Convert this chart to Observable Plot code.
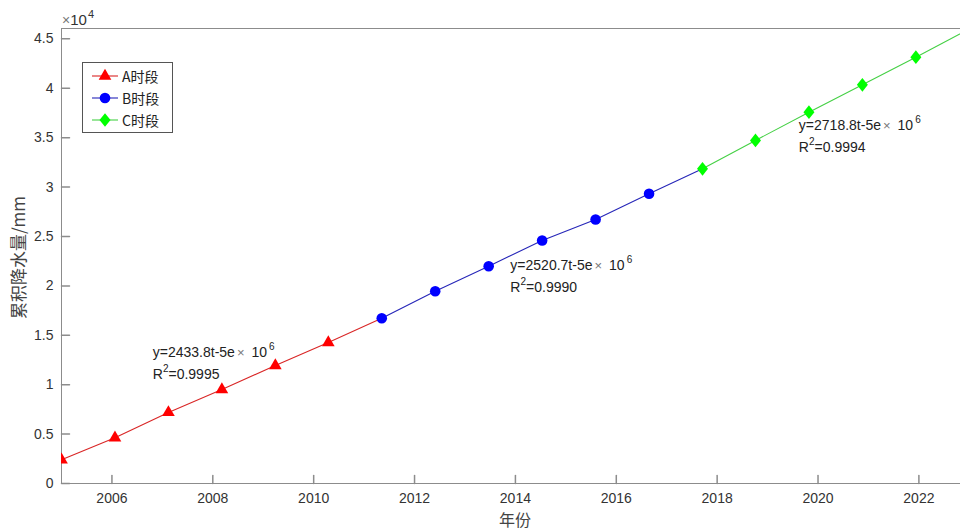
<!DOCTYPE html>
<html>
<head>
<meta charset="utf-8">
<script src="https://cdn.jsdelivr.net/npm/d3@7"></script>
<script src="https://cdn.jsdelivr.net/npm/@observablehq/plot@0.6"></script>
<style>
  html, body { margin: 0; padding: 0; background: #fff; overflow: hidden; }
  #chart { width: 960px; height: 530px; position: relative; }
</style>
</head>
<body>
<div id="chart"></div>
<script>
// Cumulative precipitation (mm) at each sampling step
const years = [2005.00, 2006.06, 2007.12, 2008.18, 2009.24, 2010.29, 2011.35, 2012.41, 2013.47,
               2014.53, 2015.59, 2016.65, 2017.71, 2018.76, 2019.82, 2020.88, 2021.94, 2023.00];
const rainfall = [2400, 4630, 7190, 9510, 11940, 14270, 16730, 19460, 21990,
                  24600, 26720, 29320, 31850, 34720, 37580, 40350, 43150, 46000];

// Periods: index of first and last sample in each
const phaseNames = ["A时段", "B时段", "C时段"];
const phaseFirst = [0, 6, 12];
const phaseLast = [6, 12, 17];

// Linear fit of each period
const fitSlopes = ["2433.8", "2520.7", "2718.8"];
const fitR2 = ["0.9995", "0.9990", "0.9994"];

const xTicks = [2006, 2008, 2010, 2012, 2014, 2016, 2018, 2020, 2022];
const yTicks = [0, 5000, 10000, 15000, 20000, 25000, 30000, 35000, 40000, 45000];

// Styling
const markerColors = ["#ff0000", "#0000ff", "#00ff00"];
const lineColors = ["#d92626", "#2626b8", "#45d045"];
const axisColor = "#8c8c8c";
const textColor = "#333333";
const latinFont = "'Liberation Sans', Arial, Helvetica, sans-serif";
const cjkFont = "'Noto Sans CJK SC', 'Liberation Sans', sans-serif";

// MATLAB-like diamond (a bit wider than d3's)
const diamond = {
  draw(ctx, size) {
    const h = Math.sqrt(size / 0.4) / 2;
    const w = h * 0.8;
    ctx.moveTo(0, -h); ctx.lineTo(w, 0); ctx.lineTo(0, h); ctx.lineTo(-w, 0); ctx.closePath();
  }
};
const symbols = [d3.symbolTriangle, d3.symbolCircle, diamond];
const radii = [4.7, 5.3, 4.9];

// Inward tick marks
const tickShape = { draw(ctx, l) { ctx.moveTo(0, 0); ctx.lineTo(0, -l); } };

const xDomain = [2005, 2022.825];   // axes run to 2023; the frame is cut at the page edge
const xFull = [2005, 2023];
const yDomain = [0, 46050];

// Placement of the fit equations (data coordinates, left edge / block centre)
const fitAnchors = [[2006.82, 12160], [2013.91, 20960], [2019.63, 35090]];

const phaseRows = phaseNames.map((name, p) => {
  const rows = [];
  for (let i = phaseFirst[p]; i <= phaseLast[p]; i++) rows.push({ year: years[i], rain: rainfall[i], phase: name });
  return rows;
});

// A shared boundary sample carries the marker of the later period
const seriesMarks = phaseRows.flatMap((rows, p) => [
  Plot.line(rows, { x: "year", y: "rain", stroke: lineColors[p], strokeWidth: 1.1, clip: true }),
  Plot.dot(p < phaseRows.length - 1 ? rows.slice(0, -1) : rows,
    { x: "year", y: "rain", symbol: symbols[p], r: radii[p], fill: markerColors[p], clip: true })
]);

const plot = Plot.plot({
  width: 960,
  height: 530,
  marginTop: 28,
  marginRight: 0,
  marginBottom: 47,
  marginLeft: 61,
  style: { fontFamily: latinFont, fontSize: "14px", color: textColor, background: "#fff" },
  x: { domain: xDomain },
  y: { domain: yDomain },
  marks: [
    Plot.ruleX([xDomain[0]], { stroke: axisColor, strokeWidth: 1 }),
    Plot.ruleY([yDomain[0]], { stroke: axisColor, strokeWidth: 1 }),
    Plot.ruleY([yDomain[1]], { stroke: axisColor, strokeWidth: 1 }),
    Plot.vector(xTicks, { x: d => d, frameAnchor: "bottom", length: 8, rotate: 0, anchor: "start", shape: tickShape, stroke: axisColor }),
    Plot.vector(yTicks, { y: d => d, frameAnchor: "left", length: 8, rotate: 90, anchor: "start", shape: tickShape, stroke: axisColor }),
    Plot.axisX({ ticks: xTicks, tickSize: 0, tickPadding: 10, tickFormat: d => String(d), label: null }),
    Plot.axisY({ ticks: yTicks, tickSize: 0, tickPadding: 8, tickFormat: d => String(d / 1e4), label: null }),
    ...seriesMarks
  ]
});

document.getElementById("chart").appendChild(plot);

const sx = plot.scale("x");
const sy = plot.scale("y");
const svg = d3.select(plot);

// Exponent note above the y axis
const expo = svg.append("text")
  .attr("x", sx.apply(xDomain[0]) + 1).attr("y", 25).attr("text-anchor", "start")
  .attr("font-family", latinFont).attr("font-size", 15).attr("fill", textColor);
expo.append("tspan").attr("fill", "#777").attr("font-size", 14).text("×");
expo.append("tspan").text("10");
expo.append("tspan").attr("font-size", 11).attr("dy", -7).attr("dx", 1).text("4");

// Axis titles
svg.append("text")
  .attr("transform", `translate(17,${(sy.apply(yDomain[0]) + sy.apply(yDomain[1])) / 2 + 2}) rotate(-90)`)
  .attr("text-anchor", "middle").attr("dominant-baseline", "central")
  .attr("font-family", cjkFont).attr("font-size", 17).attr("fill", "#444")
  .text("累积降水量/mm");

svg.append("text")
  .attr("x", sx.apply((xFull[0] + xFull[1]) / 2)).attr("y", 519)
  .attr("text-anchor", "middle").attr("dominant-baseline", "central")
  .attr("font-family", cjkFont).attr("font-size", 16).attr("fill", "#444")
  .text("年份");

// Fit equations
fitAnchors.forEach(([ax, ay], p) => {
  const x = sx.apply(ax), cy = sy.apply(ay);
  const g = svg.append("g").attr("font-family", latinFont).attr("font-size", 14)
    .attr("fill", "#222").attr("text-anchor", "start");
  const l1 = g.append("text").attr("x", x).attr("y", cy - 6);
  l1.append("tspan").text(`y=${fitSlopes[p]}t-5e`);
  l1.append("tspan").attr("dx", 2).attr("fill", "#777").attr("font-size", 13).text("×");
  l1.append("tspan").attr("dx", 7).text("10");
  l1.append("tspan").attr("font-size", 10).attr("dy", -7).attr("dx", 2).text("6");
  const l2 = g.append("text").attr("x", x).attr("y", cy + 16);
  l2.append("tspan").text("R");
  l2.append("tspan").attr("font-size", 10).attr("dy", -7).text("2");
  l2.append("tspan").attr("dy", 7).text(`=${fitR2[p]}`);
});

// Legend
const lg = svg.append("g").attr("text-anchor", "start");
lg.append("rect").attr("x", 82.5).attr("y", 62.5).attr("width", 90).attr("height", 70)
  .attr("fill", "#fff").attr("stroke", "#555").attr("stroke-width", 1);
phaseNames.forEach((name, p) => {
  const yy = 76 + p * 22;
  lg.append("line").attr("x1", 92).attr("x2", 118).attr("y1", yy).attr("y2", yy)
    .attr("stroke", lineColors[p]).attr("stroke-width", 1.1);
  lg.append("path").attr("transform", `translate(105,${yy})`)
    .attr("d", d3.symbol(symbols[p], Math.PI * radii[p] * radii[p])())
    .attr("fill", markerColors[p]);
  lg.append("text").attr("x", 122).attr("y", yy).attr("dominant-baseline", "central")
    .attr("font-family", cjkFont).attr("font-size", 14).attr("fill", "#222").text(name);
});
</script>
</body>
</html>
